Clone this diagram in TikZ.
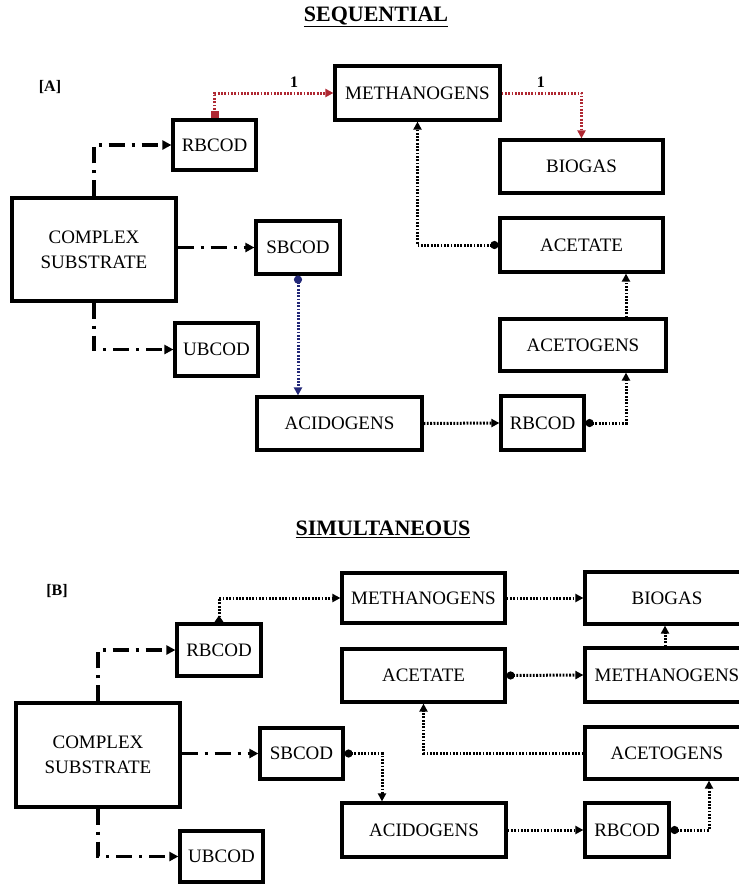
\documentclass[tikz,border=0pt]{standalone}
\usepackage{fontspec}
\setmainfont{Liberation Serif}
\usetikzlibrary{arrows.meta,calc}
\definecolor{redline}{RGB}{175,40,50}
\definecolor{blueline}{RGB}{35,40,120}
\begin{document}
\begin{tikzpicture}[x=1pt,y=-1pt,
 box/.style={draw,line width=3.2pt,rectangle,inner sep=0pt,font=\fontsize{19}{25}\selectfont,align=center},
 dd/.style={line width=3.2pt,dash pattern=on 16pt off 7pt on 3pt off 7pt,-{Triangle[width=9pt,length=9pt]}},
 dots/.style={line width=3pt,dash pattern=on 1.8pt off 1.5pt},
 tip/.style={-{Triangle[width=8pt,length=8pt]}},
 dotstart/.style={{Circle[length=8pt]}-{Triangle[width=8pt,length=8pt]}},
 tristart/.style={{Triangle[reversed,width=9pt,length=7pt]}-{Triangle[width=8pt,length=8pt]}},
 title/.style={font=\fontsize{22}{26}\selectfont\bfseries},
 tag/.style={font=\fontsize{16}{18}\selectfont\bfseries},
 num/.style={font=\fontsize{16}{18}\selectfont\bfseries},
]
\useasboundingbox (0,0) rectangle (739,884);
\clip (0,0) rectangle (739,884);

% ---------- titles ----------
\node[title] (tA) at (376,17) {\underline{SEQUENTIAL}};
\node[title] (tB) at (383,529) {\underline{SIMULTANEOUS}};
\node[tag] (labA) at (50,87) {[A]};
\node[tag] (labB) at (57,591) {[B]};

% ---------- part A ----------
\node[box,minimum width=83pt,minimum height=50pt] (rbA) at (214.5,145) {RBCOD};
\node[box,minimum width=165pt,minimum height=54pt] (methA) at (417.5,93) {METHANOGENS};
\node[box,minimum width=163pt,minimum height=53pt] (bioA) at (581.5,166.5) {BIOGAS};
\node[box,minimum width=163pt,minimum height=54pt] (acetA) at (581.5,245) {ACETATE};
\node[box,minimum width=164pt,minimum height=103pt] (csA) at (94,249.5) {COMPLEX\\SUBSTRATE};
\node[box,minimum width=84pt,minimum height=53pt] (sbA) at (298,247.5) {SBCOD};
\node[box,minimum width=83pt,minimum height=53pt] (ubA) at (216.5,349.5) {UBCOD};
\node[box,minimum width=166pt,minimum height=52pt] (acgA) at (583,345) {ACETOGENS};
\node[box,minimum width=165pt,minimum height=53pt] (acdA) at (339.5,423.5) {ACIDOGENS};
\node[box,minimum width=83pt,minimum height=54pt] (rb2A) at (542.5,423) {RBCOD};

\draw[dd] (csA.north) |- (rbA.west);
\draw[dd] (csA.east |- sbA.west) -- (sbA.west);
\draw[dd] (csA.south) |- (ubA.west);
\draw[dots,redline,{Square[length=7pt,width=8pt]}-{Triangle[width=8pt,length=8pt]}] (rbA.north) |- node[pos=0.835,above=1pt,num,text=black] {1} (methA.west);
\draw[dots,redline,tip] (methA.east) -| node[pos=0.245,above=1pt,num,text=black] {1} (bioA.north);
\draw[dots,dotstart] (acetA.west) -| (methA.south);
\draw[dots,blueline,dotstart] (sbA.south) -- (sbA.south |- acdA.north);
\draw[dots,tip] (acdA.east) -- (rb2A.west);
\draw[dots,dotstart] (rb2A.east) -| ([xshift=43pt]acgA.south);
\draw[dots,tip] ([xshift=43pt]acgA.north) -- ([xshift=43pt]acgA.north |- acetA.south);

% ---------- part B ----------
\node[box,minimum width=163pt,minimum height=50pt] (methB) at (423.5,598) {METHANOGENS};
\node[box,minimum width=164pt,minimum height=52pt] (bioB) at (667,598) {BIOGAS};
\node[box,minimum width=163pt,minimum height=53pt] (acetB) at (423.5,675.5) {ACETATE};
\node[box,minimum width=164pt,minimum height=54pt] (methB2) at (667,675) {METHANOGENS};
\node[box,minimum width=84pt,minimum height=52pt] (rbB) at (219,650) {RBCOD};
\node[box,minimum width=164pt,minimum height=104pt] (csB) at (98,755) {COMPLEX\\SUBSTRATE};
\node[box,minimum width=83pt,minimum height=51pt] (sbB) at (301.5,753.5) {SBCOD};
\node[box,minimum width=83pt,minimum height=51pt] (ubB) at (221.5,856.5) {UBCOD};
\node[box,minimum width=164pt,minimum height=52pt] (acgB) at (667,753) {ACETOGENS};
\node[box,minimum width=164pt,minimum height=54pt] (acdB) at (424,830) {ACIDOGENS};
\node[box,minimum width=84pt,minimum height=54pt] (rb2B) at (627,830) {RBCOD};

\draw[dd] (csB.north) |- (rbB.west);
\draw[dd] (csB.east |- sbB.west) -- (sbB.west);
\draw[dd] (csB.south) |- (ubB.west);
\draw[dots,tristart] (rbB.north) |- (methB.west);
\draw[dots,tip] (methB.east) -- (bioB.west);
\draw[dots,tip] ([xshift=-2pt]methB2.north) -- ([xshift=-2pt]bioB.south);
\draw[dots,dotstart] (acetB.east) -- (methB2.west);
\draw[dots,tip] (acgB.west) -| (acetB.south);
\draw[dots,dotstart] (sbB.east) -| ([xshift=-42pt]acdB.north);
\draw[dots,tip] (acdB.east) -- (rb2B.west);
\draw[dots,dotstart] (rb2B.east) -| ([xshift=42pt]acgB.south);
\end{tikzpicture}
\end{document}
